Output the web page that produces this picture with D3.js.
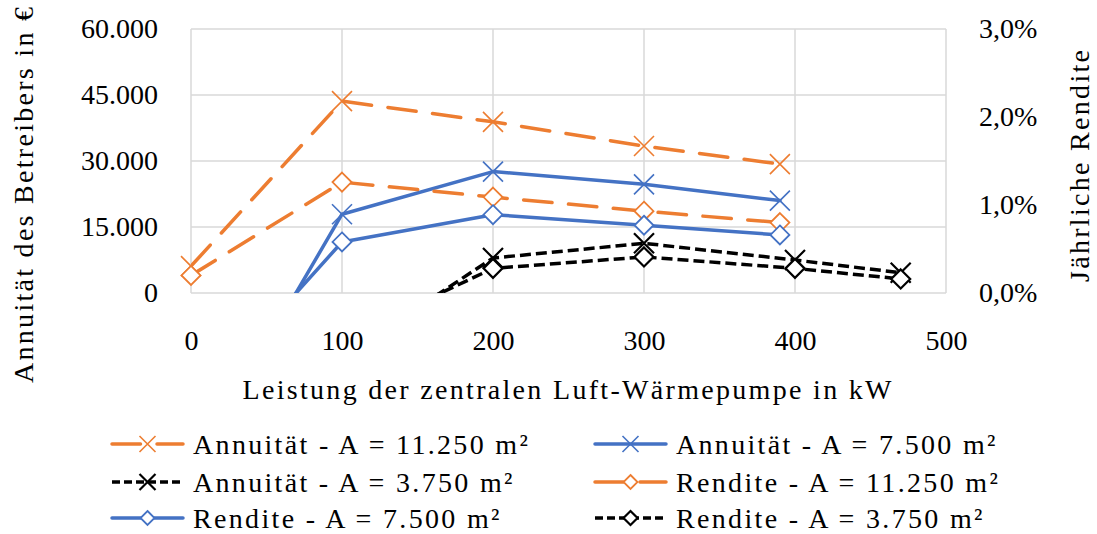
<!DOCTYPE html>
<html lang="de">
<head>
<meta charset="utf-8">
<title>Annuität und Rendite</title>
<script src="https://cdn.jsdelivr.net/npm/d3@7"></script>
<style>
  body { margin: 0; background: #fff; }
  svg text { font-family: "Liberation Serif", "DejaVu Serif", serif; fill: #000; }
</style>
</head>
<body>
<div id="chart"></div>
<script>
// Leistung (kW)
var xBig = [0, 100, 200, 300, 390];
var xSmall = [100, 200, 300, 400, 470];

// Annuität in € (linke Achse)
var annuitaet11250 = [6100, 43600, 38900, 33400, 29300];
var annuitaet7500 = [-40800, 17900, 27600, 24700, 21000];
var annuitaet3750 = [-14700, 7950, 11300, 7500, 4600];

// Rendite (rechte Achse)
var rendite11250 = [0.0020, 0.0126, 0.0109, 0.0093, 0.0080];
var rendite7500 = [-0.0133, 0.0058, 0.0089, 0.0077, 0.0066];
var rendite3750 = [-0.0053, 0.0028, 0.0041, 0.0028, 0.0016];

var xTicks = [0, 100, 200, 300, 400, 500];
var yLeftTicks = [0, 15000, 30000, 45000, 60000];
var yRightTicks = [0, 0.01, 0.02, 0.03];

var W = 1097, H = 534;
var plot = {left: 191, right: 946, top: 29, bottom: 293};
var fs = 28;

var de = d3.formatLocale({decimal: ",", thousands: ".", grouping: [3], currency: ["", " €"]});
var fmtL = de.format(",.0f");
var fmtR = de.format(".1%");

var x = d3.scaleLinear().domain([0, 500]).range([plot.left, plot.right]);
var yL = d3.scaleLinear().domain([0, 60000]).range([plot.bottom, plot.top]);
var yR = d3.scaleLinear().domain([0, 0.03]).range([plot.bottom, plot.top]);

var orange = "#ED7D31", blue = "#4472C4", black = "#000000";
var longDash = "28.5,16.5", shortDash = "11,5";

var series = [
  {name: "Annuität - A = 11.250 m²", xs: xBig, ys: annuitaet11250, y: yL, color: orange, dash: longDash, cap: "round", marker: "x"},
  {name: "Annuität - A = 7.500 m²", xs: xBig, ys: annuitaet7500, y: yL, color: blue, dash: null, cap: "round", marker: "x"},
  {name: "Annuität - A = 3.750 m²", xs: xSmall, ys: annuitaet3750, y: yL, color: black, dash: shortDash, cap: "butt", marker: "x"},
  {name: "Rendite - A = 11.250 m²", xs: xBig, ys: rendite11250, y: yR, color: orange, dash: longDash, cap: "round", marker: "d"},
  {name: "Rendite - A = 7.500 m²", xs: xBig, ys: rendite7500, y: yR, color: blue, dash: null, cap: "round", marker: "d"},
  {name: "Rendite - A = 3.750 m²", xs: xSmall, ys: rendite3750, y: yR, color: black, dash: shortDash, cap: "butt", marker: "d"}
];

var svg = d3.select("#chart").append("svg")
  .attr("width", W).attr("height", H);

svg.append("defs").append("clipPath").attr("id", "plotclip")
  .append("rect")
  .attr("x", plot.left).attr("y", plot.top)
  .attr("width", plot.right - plot.left).attr("height", plot.bottom - plot.top);

// gitter
var grid = svg.append("g").attr("stroke", "#d9d9d9").attr("stroke-width", 1.5);
grid.selectAll(".h").data(yLeftTicks).enter().append("line")
  .attr("x1", plot.left).attr("x2", plot.right)
  .attr("y1", function(d) { return yL(d); }).attr("y2", function(d) { return yL(d); });
grid.selectAll(".v").data(xTicks).enter().append("line")
  .attr("y1", plot.top).attr("y2", plot.bottom)
  .attr("x1", function(d) { return x(d); }).attr("x2", function(d) { return x(d); });

// achsen
var xAxis = d3.axisBottom(x).tickValues(xTicks).tickSize(0).tickPadding(37);
var yAxisL = d3.axisLeft(yL).tickValues(yLeftTicks).tickSize(0).tickPadding(33).tickFormat(fmtL);
var yAxisR = d3.axisRight(yR).tickValues(yRightTicks).tickSize(0).tickPadding(33).tickFormat(fmtR);

svg.append("g").attr("transform", "translate(0," + plot.bottom + ")").call(xAxis);
svg.append("g").attr("transform", "translate(" + plot.left + ",0)").call(yAxisL);
svg.append("g").attr("transform", "translate(" + plot.right + ",0)").call(yAxisR);
svg.selectAll(".domain").remove();
svg.selectAll(".tick text").attr("font-size", fs).attr("font-family", "Liberation Serif, serif").attr("fill", "#000");

// linien
var lines = svg.append("g").attr("clip-path", "url(#plotclip)");
series.forEach(function(s) {
  var pts = s.xs.map(function(v, i) { return [v, s.ys[i]]; });
  var line = d3.line().x(function(d) { return x(d[0]); }).y(function(d) { return s.y(d[1]); });
  lines.append("path")
    .attr("d", line(pts))
    .attr("fill", "none")
    .attr("stroke", s.color)
    .attr("stroke-width", 3.5)
    .attr("stroke-linecap", s.cap)
    .attr("stroke-linejoin", "round")
    .attr("stroke-dasharray", s.dash);
});

function drawMarker(g, type, cx, cy, color, big) {
  if (type === "x") {
    var r = big ? 10 : 8;
    g.append("path")
      .attr("d", "M" + (cx - r) + "," + (cy - r) + "L" + (cx + r) + "," + (cy + r) +
                 "M" + (cx - r) + "," + (cy + r) + "L" + (cx + r) + "," + (cy - r))
      .attr("stroke", color).attr("stroke-width", color === black ? 2.2 : 1.6).attr("fill", "none");
  } else {
    var q = big ? 9.5 : 7;
    g.append("path")
      .attr("d", "M" + cx + "," + (cy - q) + "L" + (cx + q) + "," + cy + "L" + cx + "," + (cy + q) + "L" + (cx - q) + "," + cy + "Z")
      .attr("stroke", color).attr("stroke-width", color === black ? 2.2 : 1.8).attr("fill", "#fff");
  }
}

var markers = svg.append("g");
series.forEach(function(s) {
  s.xs.forEach(function(v, i) {
    var val = s.ys[i];
    if (val < s.y.domain()[0]) return;
    drawMarker(markers, s.marker, x(v), s.y(val), s.color, true);
  });
});

// achsentitel
svg.append("text")
  .attr("transform", "translate(33,195) rotate(-90)")
  .attr("text-anchor", "middle").attr("font-size", fs)
  .attr("textLength", 376)
  .text("Annuität des Betreibers in €");
svg.append("text")
  .attr("transform", "translate(1089,166) rotate(-90)")
  .attr("text-anchor", "middle").attr("font-size", fs)
  .attr("textLength", 232)
  .text("Jährliche Rendite");
svg.append("text")
  .attr("x", 567).attr("y", 399)
  .attr("text-anchor", "middle").attr("font-size", fs)
  .attr("textLength", 649)
  .text("Leistung der zentralen Luft-Wärmepumpe in kW");

// legende
var legCols = [112, 595];
var legRows = [444, 482, 518];
var leg = svg.append("g");
series.forEach(function(s, i) {
  var col = i % 2, row = Math.floor(i / 2);
  var x0 = legCols[col], yy = legRows[row];
  leg.append("line")
    .attr("x1", x0).attr("x2", x0 + 71).attr("y1", yy).attr("y2", yy)
    .attr("stroke", s.color).attr("stroke-width", 3.5)
    .attr("stroke-linecap", s.cap)
    .attr("stroke-dasharray", s.dash === shortDash ? "8,4" : s.dash);
  drawMarker(leg, s.marker, x0 + 35.5, yy, s.color, false);
  var t = leg.append("text")
    .attr("x", x0 + 81).attr("y", yy).attr("dy", "0.35em")
    .attr("font-size", fs)
    .text(s.name);
  t.attr("textLength", t.node().getComputedTextLength() * 1.19);
});
</script>
</body>
</html>
